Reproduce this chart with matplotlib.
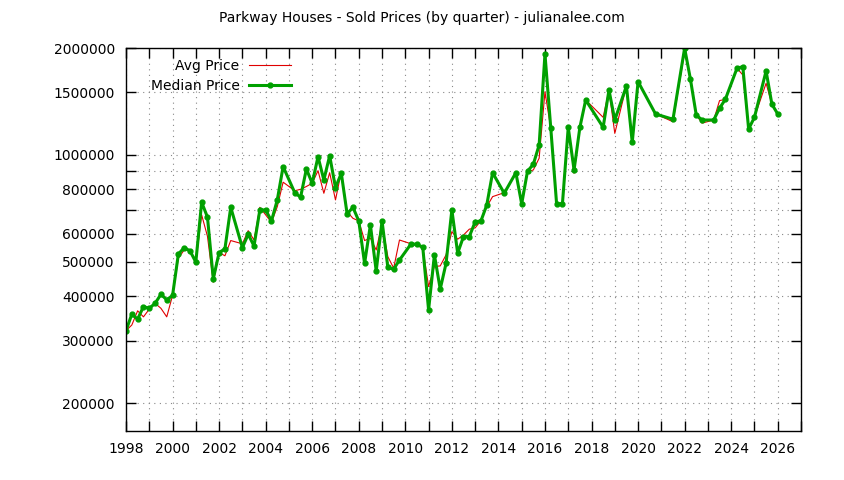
import numpy as np
import matplotlib
matplotlib.use("Agg")
import matplotlib.pyplot as plt
from matplotlib.ticker import FixedLocator, NullLocator, NullFormatter

# quarter dates and prices
dates = [1998.0, 1998.25, 1998.5, 1998.75, 1999.0, 1999.25, 1999.5, 1999.75,
         2000.0, 2000.25, 2000.5, 2000.75, 2001.0, 2001.25, 2001.5, 2001.75,
         2002.0, 2002.25, 2002.5, 2003.0, 2003.25, 2003.5, 2003.75,
         2004.0, 2004.25, 2004.5, 2004.75, 2005.25, 2005.5, 2005.75,
         2006.0, 2006.25, 2006.5, 2006.75, 2007.0, 2007.25, 2007.5, 2007.75,
         2008.0, 2008.25, 2008.5, 2008.75, 2009.0, 2009.25, 2009.5, 2009.75,
         2010.25, 2010.5, 2010.75, 2011.0, 2011.25, 2011.5, 2011.75,
         2012.0, 2012.25, 2012.5, 2012.75, 2013.0, 2013.25, 2013.5, 2013.75,
         2014.25, 2014.75, 2015.0, 2015.25, 2015.5, 2015.75,
         2016.0, 2016.25, 2016.5, 2016.75, 2017.0, 2017.25, 2017.5, 2017.75,
         2018.5, 2018.75, 2019.0, 2019.5, 2019.75, 2020.0, 2020.75, 2021.5,
         2022.0, 2022.25, 2022.5, 2022.75, 2023.25, 2023.5, 2023.75,
         2024.25, 2024.5, 2024.75, 2025.0, 2025.5, 2025.75, 2026.0]

avg_price = [320000, 332000, 364000, 350000, 368000, 382000, 370000, 350000,
             402000, 512000, 540000, 536000, 499000, 678000, 590000, 438000,
             531000, 520000, 574000, 562000, 612000, 576000, 712000,
             678000, 646000, 715000, 838000, 793000, 800000, 815000,
             832000, 903000, 780000, 891000, 747000, 897000, 692000, 663000,
             652000, 574000, 583000, 540000, 640000, 517000, 480000, 576000,
             562000, 555000, 548000, 426000, 485000, 487000, 523000,
             608000, 579000, 595000, 618000, 623000, 653000, 715000, 763000,
             783000, 888000, 728000, 897000, 907000, 979000,
             1506000, 1189000, 728000, 728000, 1196000, 888000, 1196000, 1428000,
             1276000, 1523000, 1150000, 1564000, 1085000, 1608000, 1304000, 1240000,
             1953000, 1633000, 1295000, 1229000, 1254000, 1422000, 1434000,
             1754000, 1679000, 1183000, 1276000, 1591000, 1389000, 1304000]

median_price = [320000, 356000, 345000, 374000, 370000, 382000, 405000, 391000,
                402000, 526000, 548000, 537000, 499000, 736000, 668000, 448000,
                531000, 544000, 712000, 548000, 598000, 554000, 700000,
                700000, 652000, 747000, 927000, 783000, 760000, 913000,
                832000, 989000, 850000, 995000, 809000, 888000, 682000, 712000,
                652000, 495000, 635000, 471000, 652000, 482000, 477000, 506000,
                562000, 560000, 550000, 366000, 523000, 419000, 495000,
                700000, 529000, 589000, 589000, 648000, 652000, 723000, 891000,
                780000, 891000, 728000, 900000, 941000, 1067000,
                1924000, 1189000, 728000, 728000, 1196000, 907000, 1196000, 1428000,
                1196000, 1523000, 1254000, 1564000, 1085000, 1608000, 1304000, 1260000,
                1998000, 1633000, 1295000, 1254000, 1254000, 1353000, 1434000,
                1754000, 1772000, 1183000, 1276000, 1723000, 1389000, 1304000]

y_ticks = [200000, 300000, 400000, 500000, 600000, 700000, 800000, 900000,
           1000000, 1500000, 2000000]
y_labels = ["200000", "300000", "400000", "500000", "600000", "", "800000", "",
            "1000000", "1500000", "2000000"]
years = list(range(1998, 2028))

plt.rcParams['font.family'] = ['DejaVu Sans']
fig = plt.figure(figsize=(8.44, 4.8), dpi=100)
ax = fig.add_axes([126 / 844, 49 / 480, 675 / 844, 383 / 480])

ax.plot(dates, avg_price, color="#e00000", linewidth=0.8, label="Avg Price")
ax.plot(dates, median_price, color="#00a000", linewidth=2.2, marker="o",
        markersize=3.5, label="Median Price")

ax.set_yscale("log")
ax.set_xlim(1998, 2027)
ax.set_ylim(167000, 2000000)
ax.yaxis.set_major_locator(FixedLocator(y_ticks))
ax.set_yticklabels(y_labels)
ax.yaxis.set_minor_locator(NullLocator())
ax.yaxis.set_minor_formatter(NullFormatter())
ax.set_xticks(years)
ax.set_xticklabels([str(y) if y % 2 == 0 and y <= 2026 else "" for y in years])

ax.tick_params(direction="in", length=7, width=1, top=True, right=True,
               labelsize=10, pad=8, colors="black")
for s in ax.spines.values():
    s.set_linewidth(1)
ax.grid(True, color="#888888", linestyle=(0, (1, 4)), linewidth=0.8)

ax.legend(loc="upper left", bbox_to_anchor=(0.024, 0.993), frameon=False,
          markerfirst=False, handlelength=3, handletextpad=0.7,
          labelspacing=0.4, fontsize=10, borderaxespad=0.2)

fig.text(0.5, 1 - 18 / 480, "Parkway Houses - Sold Prices (by quarter) - julianalee.com",
         ha="center", va="center", fontsize=10)

fig.savefig("out.png", dpi=100)
